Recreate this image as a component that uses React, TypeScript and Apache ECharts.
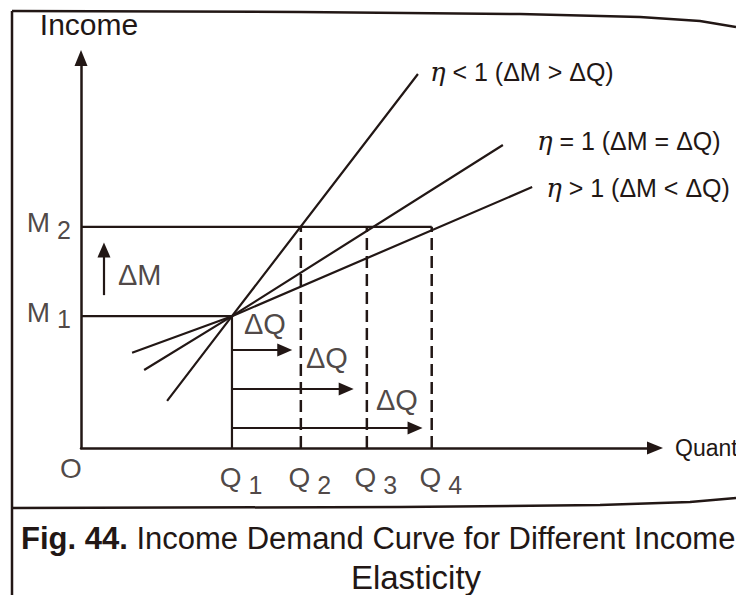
import React, { useEffect, useRef } from "react";
import * as echarts from "echarts";

// Diagram values (abstract units; axes run 0..100)
const quantities = [26.3, 38.3, 49.8, 61.1]; // Q1..Q4
const incomes = [33.8, 56.7]; // M1, M2
const quantityLabels = ["1", "2", "3", "4"];
const incomeLabels = ["1", "2"];
const inelasticLine = [[15.0, 12.1], [26.3, 33.8], [58.7, 95.9]]; // η < 1
const unitLine = [[11.0, 20.0], [26.3, 33.8], [73.5, 77.7]]; // η = 1
const elasticLine = [[8.9, 24.4], [26.3, 33.8], [78.6, 66.9]]; // η > 1
const lineNames = ["η < 1 (ΔM > ΔQ)", "η = 1 (ΔM = ΔQ)", "η > 1 (ΔM < ΔQ)"];
const dqArrowLevels = [25.1, 15.1, 5.1];
const dqArrowTips = [35.5, 46.2, 58.2];
const dmArrowX = 4.0;
const dmArrowSpan = [39.2, 50.8];

const INK = "#221715";
const FONT = "'Liberation Sans', Arial, Helvetica, sans-serif";

export default function App() {
  const ref = useRef<HTMLDivElement>(null);

  useEffect(() => {
    if (!ref.current) return;
    const chart = echarts.init(ref.current, null, { renderer: "svg" });
    const [q1, q2, q3, q4] = quantities;
    const [m1, m2] = incomes;

    const solid = (name: string, data: number[][], width = 2.2) => ({
      name,
      type: "line",
      data,
      symbol: "none",
      silent: true,
      lineStyle: { color: INK, width },
    });

    const dashed = (x: number) => ({
      type: "line",
      data: [[x, 0], [x, m2]],
      symbol: "none",
      silent: true,
      lineStyle: { color: INK, width: 2.5, type: [12, 6] },
    });

    const subRich = {
      m: { fontSize: 28, fontFamily: FONT, color: INK },
      s: { fontSize: 25, fontFamily: FONT, color: INK, padding: [14, 0, 0, 7] },
    };

    const curveLabel = (text: string, offset: number[]) => ({
      show: true,
      formatter: "{e|η}" + text.slice(1),
      color: INK,
      fontSize: 25,
      fontFamily: FONT,
      offset,
      rich: { e: { fontStyle: "italic", fontSize: 26, fontFamily: "'DejaVu Serif', serif", color: INK } },
    });

    const labelPoints: any[] = [];
    quantities.forEach((q, i) => {
      labelPoints.push({
        value: [q, 0],
        label: {
          show: true,
          position: "bottom",
          distance: 10,
          offset: [9, 0],
          formatter: "{m|Q}{s|" + quantityLabels[i] + "}",
          rich: subRich,
        },
      });
    });
    incomes.forEach((m, i) => {
      labelPoints.push({
        value: [0, m],
        label: {
          show: true,
          position: "left",
          distance: 10,
          offset: [0, -4],
          formatter: "{m|M}{s|" + incomeLabels[i] + "}",
          rich: subRich,
        },
      });
    });
    labelPoints.push({
      value: [0, 0],
      label: { show: true, position: "bottom", distance: 6, offset: [-10, 0], formatter: "O", fontSize: 28 },
    });
    labelPoints.push({
      value: [dmArrowX, (dmArrowSpan[0] + dmArrowSpan[1]) / 2],
      label: { show: true, position: "right", distance: 14, offset: [0, 2], formatter: "ΔM", fontSize: 29 },
    });
    const dqOffsets = [[33, -26], [95, -31], [165, -28]];
    dqArrowLevels.forEach((lv, i) => {
      labelPoints.push({
        value: [q1, lv],
        label: { show: true, position: "inside", offset: dqOffsets[i], formatter: "ΔQ", fontSize: 29 },
      });
    });

    const arrowLines: any[] = dqArrowLevels.map((lv, i) => [
      { coord: [q1, lv] },
      { coord: [dqArrowTips[i], lv] },
    ]);
    arrowLines.push([{ coord: [dmArrowX, dmArrowSpan[0]] }, { coord: [dmArrowX, dmArrowSpan[1]] }]);

    const option: any = {
      animation: false,
      backgroundColor: "#ffffff",
      textStyle: { fontFamily: FONT, color: INK },
      grid: { left: 81, right: 81, top: 58, bottom: 147, containLabel: false, outerBoundsMode: "none" },
      xAxis: {
        type: "value",
        min: 0,
        max: 100,
        name: "Quantity",
        nameLocation: "end",
        nameGap: 20,
        nameTextStyle: { fontSize: 23, color: INK, fontFamily: FONT, verticalAlign: "middle" },
        axisLine: {
          show: true,
          symbol: ["none", "triangle"],
          symbolSize: [13, 16],
          lineStyle: { color: INK, width: 2.5 },
        },
        axisTick: { show: false },
        axisLabel: { show: false },
        splitLine: { show: false },
      },
      yAxis: {
        type: "value",
        min: 0,
        max: 100,
        name: "Income",
        nameLocation: "end",
        nameGap: 19,
        nameTextStyle: { fontSize: 30, color: INK, fontFamily: FONT, padding: [0, 0, 0, 16] },
        axisLine: {
          show: true,
          symbol: ["none", "triangle"],
          symbolSize: [13, 16],
          lineStyle: { color: INK, width: 2.5 },
        },
        axisTick: { show: false },
        axisLabel: { show: false },
        splitLine: { show: false },
      },
      series: [
        {
          ...solid("inelastic", inelasticLine),
          endLabel: curveLabel(lineNames[0], [4, -2]),
        },
        {
          ...solid("unit", unitLine),
          endLabel: curveLabel(lineNames[1], [26, -4]),
        },
        {
          ...solid("elastic", elasticLine),
          endLabel: curveLabel(lineNames[2], [6, 1]),
        },
        solid("M2 level", [[0, m2], [q4, m2]]),
        solid("M1 level", [[0, m1], [q1, m1]]),
        solid("Q1 level", [[q1, 0], [q1, m1]]),
        dashed(q2),
        dashed(q3),
        dashed(q4),
        {
          type: "scatter",
          data: labelPoints,
          symbolSize: 0,
          silent: true,
          label: { color: INK, fontFamily: FONT },
          markLine: {
            silent: true,
            symbol: ["none", "triangle"],
            symbolSize: [13, 15],
            label: { show: false },
            lineStyle: { color: INK, width: 2.2, type: "solid" },
            data: arrowLines,
          },
        },
      ],
      graphic: [
        {
          type: "polyline",
          silent: true,
          shape: { points: [[12, 11], [300, 12], [520, 14], [640, 17], [700, 21], [736, 27]] },
          style: { stroke: INK, lineWidth: 2.5, fill: "none" },
        },
        {
          type: "line",
          silent: true,
          shape: { x1: 12, y1: 11, x2: 12, y2: 595 },
          style: { stroke: INK, lineWidth: 2.5 },
        },
        {
          type: "polyline",
          silent: true,
          shape: { points: [[12, 508], [400, 507], [600, 505], [690, 502], [736, 498]] },
          style: { stroke: INK, lineWidth: 2.5, fill: "none" },
        },
        {
          type: "text",
          silent: true,
          x: 21,
          y: 538,
          style: {
            text: "{b|Fig. 44.} Income Demand Curve for Different Income",
            fontSize: 31,
            fontFamily: FONT,
            fill: INK,
            verticalAlign: "middle",
            rich: { b: { fontWeight: "bold", fontSize: 31, fontFamily: FONT, fill: INK } },
          },
        },
        {
          type: "text",
          silent: true,
          x: 416,
          y: 577,
          style: {
            text: "Elasticity",
            fontSize: 33,
            fontFamily: FONT,
            fill: INK,
            align: "center",
            verticalAlign: "middle",
          },
        },
      ],
    };

    chart.setOption(option);
    return () => chart.dispose();
  }, []);

  return (
    <div
      ref={ref}
      style={{ position: "fixed", left: 0, top: 0, width: 736, height: 595, background: "#fff" }}
    />
  );
}
